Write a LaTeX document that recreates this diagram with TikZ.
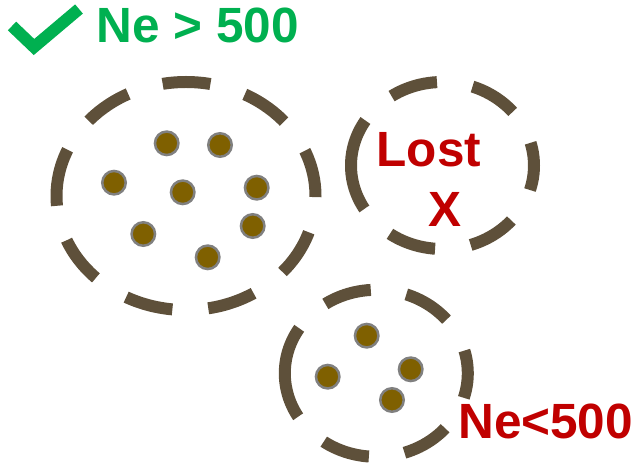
\documentclass[tikz,border=0pt]{standalone}
\usepackage{fontspec}
\setmainfont{Liberation Sans}
\definecolor{ringc}{RGB}{94,80,58}
\definecolor{dotc}{HTML}{7F6000}
\definecolor{dotb}{RGB}{128,128,128}
\definecolor{okgreen}{HTML}{00B050}
\definecolor{badred}{HTML}{C00000}
\tikzset{
  ring/.style={draw=ringc, line width=12pt, dash pattern=on 48pt off 36pt},
  dot/.style={circle, draw=dotb, fill=dotc, line width=2.5pt, minimum size=23.5pt, inner sep=0pt},
  lbl/.style={inner sep=0pt, font=\fontsize{49.5}{58}\selectfont\bfseries},
}
\begin{document}
\begin{tikzpicture}[x=1pt,y=1pt]
\useasboundingbox (0,0) rectangle (641,469);
% check mark
\coordinate (c1) at (12,443);
\coordinate (c2) at (34,422);
\coordinate (c3) at (79,460);
\draw[okgreen, line width=12pt, miter limit=10] (c1) -- (c2) -- (c3);
\node[lbl, text=okgreen, anchor=base west] (good) at (96.4,426.3) {Ne > 500};
% big population
\coordinate (bigc) at (186,273);
\draw[ring] ([shift={(180:129.5 and 114)}]bigc) arc[start angle=180, end angle=-180, x radius=129.5, y radius=114];
\node[dot] (b1) at (166.7,325.7) {};
\node[dot] (b2) at (220,324) {};
\node[dot] (b3) at (114,286.3) {};
\node[dot] (b4) at (182.7,276.7) {};
\node[dot] (b5) at (256.7,281.3) {};
\node[dot] (b6) at (143.3,235) {};
\node[dot] (b7) at (252.7,243) {};
\node[dot] (b8) at (207.7,211.7) {};
% lost population
\coordinate (lostc) at (442.5,303.5);
\draw[ring] ([shift={(180:91.5 and 83.5)}]lostc) arc[start angle=180, end angle=-180, x radius=91.5, y radius=83.5];
\node[lbl, text=badred, anchor=base west] (lost) at (376.4,302.3) {Lost};
\node[lbl, text=badred, anchor=base] (lx) at (445,242.3) {X};
% small population
\coordinate (smallc) at (376.3,95.7);
\draw[ring] ([shift={(180:91.5 and 83.5)}]smallc) arc[start angle=180, end angle=-180, x radius=91.5, y radius=83.5];
\node[dot] (s1) at (366.7,133.3) {};
\node[dot] (s2) at (327.7,92.3) {};
\node[dot] (s3) at (410.7,99.7) {};
\node[dot] (s4) at (392,69) {};
\node[lbl, text=badred, anchor=base west] (small) at (458.1,30.7) {Ne<500};
\end{tikzpicture}
\end{document}
